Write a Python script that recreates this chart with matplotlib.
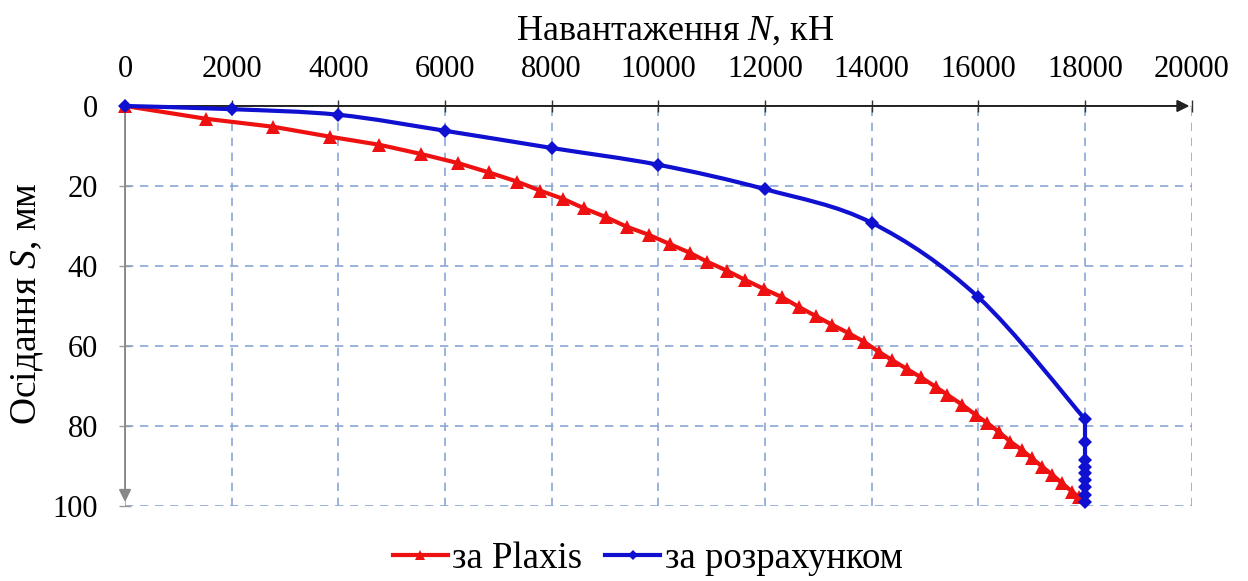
import matplotlib
matplotlib.use("Agg")
import matplotlib.pyplot as plt
from matplotlib.path import Path
from matplotlib.patches import PathPatch
from matplotlib.lines import Line2D

plt.rcParams['font.family'] = ['Liberation Serif', 'DejaVu Serif']
plt.rcParams['mathtext.fontset'] = 'custom'
plt.rcParams['mathtext.rm'] = 'Liberation Serif'
plt.rcParams['mathtext.it'] = 'Liberation Serif:italic'

# ---- data ----
plaxis_N = [0, 1520, 2780, 3850, 4770, 5550, 6250, 6820, 7350, 7790, 8210, 8610,
            9020, 9410, 9820, 10210, 10590, 10910, 11290, 11630, 11990, 12320,
            12630, 12950, 13260, 13570, 13850, 14130, 14380, 14670, 14920, 15200,
            15420, 15700, 15950, 16170, 16380, 16600, 16820, 17010, 17200, 17390,
            17570, 17760, 17890]
plaxis_S = [0, 3.2, 5.2, 7.7, 9.7, 12.0, 14.3, 16.6, 18.9, 21.2, 23.2, 25.6,
            27.8, 30.2, 32.2, 34.5, 36.7, 38.9, 41.2, 43.5, 45.8, 47.8,
            50.2, 52.5, 54.7, 56.8, 58.9, 61.4, 63.5, 65.8, 67.8, 70.2,
            72.2, 74.7, 77.2, 79.3, 81.4, 83.9, 86.0, 88.1, 90.2, 92.2,
            94.3, 96.4, 97.8]
calc_N = [0, 2000, 4000, 6000, 8000, 10000, 12000, 14000, 16000, 18000,
          18000, 18000, 18000, 18000, 18000, 18000, 18000, 18000]
calc_S = [0, 0.8, 2.2, 6.2, 10.5, 14.7, 20.8, 29.2, 47.8, 78.3,
          83.9, 88.5, 90.2, 91.8, 93.5, 95.2, 97.2, 98.9]
x_ticks = [0, 2000, 4000, 6000, 8000, 10000, 12000, 14000, 16000, 18000, 20000]
y_ticks = [0, 20, 40, 60, 80, 100]
label_plaxis = 'за Plaxis'
label_calc = 'за розрахунком'
x_title = r'Навантаження $\mathit{N}$, кН'
y_title = r'Осідання $\mathit{S}$, мм'

RED = '#ee1111'
BLUE = '#1010d0'
GRID = '#8aa5d6'
LW = 3.0


def smooth_path(xs, ys):
    """Excel-style smoothed line rendering (Catmull-Rom -> cubic Bezier)."""
    pts = list(zip(xs, ys))
    n = len(pts)
    verts = [pts[0]]
    codes = [Path.MOVETO]
    for i in range(n - 1):
        p0 = pts[i - 1] if i > 0 else pts[i]
        p1 = pts[i]
        p2 = pts[i + 1]
        p3 = pts[i + 2] if i + 2 < n else pts[i + 1]
        c1 = (p1[0] + (p2[0] - p0[0]) / 6.0, p1[1] + (p2[1] - p0[1]) / 6.0)
        c2 = (p2[0] - (p3[0] - p1[0]) / 6.0, p2[1] - (p3[1] - p1[1]) / 6.0)
        verts += [c1, c2, p2]
        codes += [Path.CURVE4] * 3
    return Path(verts, codes)


fig = plt.figure(figsize=(12.48, 5.81), dpi=100)
ax = fig.add_axes([0.1002, 0.1291, 0.8546, 0.6885])

ax.set_xlim(0, 20000)
ax.set_ylim(100, 0)

for s in ax.spines.values():
    s.set_visible(False)

ax.set_xticks(x_ticks)
ax.set_yticks(y_ticks)
ax.set_xticklabels([str(v) for v in x_ticks])
ax.set_yticklabels([str(v) for v in y_ticks])
ax.xaxis.tick_top()
ax.tick_params(axis='x', which='both', direction='inout', length=9, width=1,
               color='#333333', labelsize=22, pad=11)
ax.tick_params(axis='y', which='both', direction='inout', length=9, width=1,
               color='#999999', labelsize=22, pad=15)
ax.tick_params(axis='x', bottom=False, labelbottom=False)
ax.tick_params(axis='y', right=False)

ax.grid(True, linestyle=(0, (5, 4)), color=GRID, linewidth=1.2)

# axis lines with arrows
ax.annotate('', xy=(0.998, 1), xytext=(0, 1), xycoords='axes fraction',
            arrowprops=dict(arrowstyle='-|>', color='#222222', lw=1.4,
                            mutation_scale=18, shrinkA=0, shrinkB=0),
            annotation_clip=False)
ax.annotate('', xy=(0, 0.01), xytext=(0, 1), xycoords='axes fraction',
            arrowprops=dict(arrowstyle='-|>', color='#888888', lw=1.4,
                            mutation_scale=18, shrinkA=0, shrinkB=0),
            annotation_clip=False)

# Plaxis series
ax.plot(plaxis_N, plaxis_S, color=RED, lw=LW, marker='^', markersize=10,
        markeredgewidth=0, clip_on=False, zorder=3)

# calculated series: smoothed line up to the corner, straight vertical tail
k = 10
ax.add_patch(PathPatch(smooth_path(calc_N[:k], calc_S[:k]), facecolor='none',
                       edgecolor=BLUE, lw=LW, zorder=4, clip_on=False,
                       capstyle='round', joinstyle='round'))
ax.plot(calc_N[k - 1:], calc_S[k - 1:], color=BLUE, lw=LW, zorder=4, clip_on=False)
ax.plot(calc_N, calc_S, linestyle='none', marker='D', markersize=7,
        color=BLUE, markeredgewidth=0, clip_on=False, zorder=5)

fig.text(0.541, 0.947, x_title, ha='center', va='center', fontsize=26)
fig.text(0.022, 0.478, y_title, ha='center', va='center', rotation=90, fontsize=27)

handles = [Line2D([], [], color=RED, lw=LW, marker='^', markersize=7, markeredgewidth=0),
           Line2D([], [], color=BLUE, lw=LW, marker='D', markersize=5, markeredgewidth=0)]
fig.legend(handles, [label_plaxis, label_calc], loc='center',
           bbox_to_anchor=(0.519, 0.038), ncol=2, frameon=False,
           fontsize=26.5, handlelength=1.5, columnspacing=0.62, handletextpad=0.12)

fig.savefig('out.png', dpi=100)
